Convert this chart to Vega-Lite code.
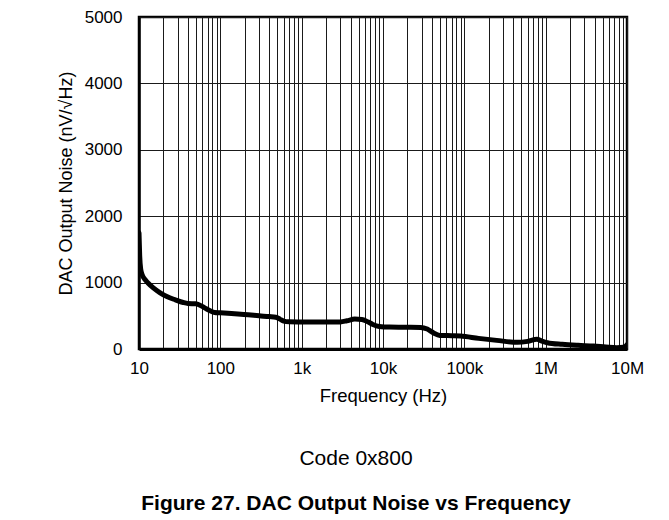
{
  "$schema": "https://vega.github.io/schema/vega-lite/v6.json",
  "width": 488,
  "height": 332,
  "autosize": {"type": "none"},
  "padding": {"left": 139, "top": 17, "right": 42, "bottom": 171},
  "background": "white",
  "config": {
    "font": "Liberation Sans",
    "view": {"stroke": "black", "strokeWidth": 2.5},
    "axis": {
      "labelFont": "Liberation Sans",
      "titleFont": "Liberation Sans",
      "labelColor": "black",
      "titleColor": "black",
      "titleFontWeight": "normal",
      "gridColor": "#1a1a1a",
      "gridOpacity": 1,
      "gridWidth": 1,
      "ticks": false,
      "domainColor": "black"
    }
  },
  "title": {
    "text": "Code 0x800",
    "subtitle": "Figure 27. DAC Output Noise vs Frequency",
    "orient": "bottom",
    "anchor": "middle",
    "dx": -27,
    "offset": 43,
    "font": "Liberation Sans",
    "fontSize": 21,
    "fontWeight": "normal",
    "color": "black",
    "subtitleFont": "Liberation Sans",
    "subtitleFontSize": 21,
    "subtitleFontWeight": "bold",
    "subtitleColor": "black",
    "subtitlePadding": 24
  },
  "data": {
    "values": [
      {"freq": 10, "noise": 1750},
      {"freq": 10.2, "noise": 1400},
      {"freq": 10.5, "noise": 1200},
      {"freq": 11, "noise": 1110},
      {"freq": 12, "noise": 1040},
      {"freq": 13, "noise": 990},
      {"freq": 15, "noise": 920},
      {"freq": 18, "noise": 850},
      {"freq": 22, "noise": 790},
      {"freq": 28, "noise": 740},
      {"freq": 35, "noise": 700},
      {"freq": 40, "noise": 685},
      {"freq": 50, "noise": 680},
      {"freq": 56, "noise": 660},
      {"freq": 65, "noise": 615},
      {"freq": 75, "noise": 575},
      {"freq": 85, "noise": 550},
      {"freq": 100, "noise": 545},
      {"freq": 150, "noise": 530},
      {"freq": 220, "noise": 515},
      {"freq": 300, "noise": 500},
      {"freq": 400, "noise": 488},
      {"freq": 480, "noise": 478},
      {"freq": 540, "noise": 450},
      {"freq": 600, "noise": 420},
      {"freq": 700, "noise": 410},
      {"freq": 1000, "noise": 408},
      {"freq": 2000, "noise": 405},
      {"freq": 3000, "noise": 408},
      {"freq": 3600, "noise": 425},
      {"freq": 4500, "noise": 450},
      {"freq": 5500, "noise": 445},
      {"freq": 6500, "noise": 410},
      {"freq": 7500, "noise": 370},
      {"freq": 9000, "noise": 340},
      {"freq": 12000, "noise": 330},
      {"freq": 20000, "noise": 328},
      {"freq": 29000, "noise": 325},
      {"freq": 35000, "noise": 300},
      {"freq": 42000, "noise": 240},
      {"freq": 50000, "noise": 205},
      {"freq": 70000, "noise": 200},
      {"freq": 90000, "noise": 195},
      {"freq": 150000, "noise": 160},
      {"freq": 250000, "noise": 130},
      {"freq": 450000, "noise": 100},
      {"freq": 600000, "noise": 115},
      {"freq": 780000, "noise": 145},
      {"freq": 900000, "noise": 120},
      {"freq": 1050000, "noise": 95},
      {"freq": 1600000, "noise": 70},
      {"freq": 2500000, "noise": 55},
      {"freq": 3900000, "noise": 45},
      {"freq": 5500000, "noise": 30},
      {"freq": 7500000, "noise": 20},
      {"freq": 9000000, "noise": 25},
      {"freq": 9600000, "noise": 40},
      {"freq": 10000000, "noise": 65}
    ]
  },
  "mark": {"type": "line", "color": "black", "strokeWidth": 5, "strokeJoin": "round", "strokeCap": "round", "interpolate": "monotone", "clip": true},
  "encoding": {
    "x": {
      "field": "freq",
      "type": "quantitative",
      "scale": {"type": "log", "domain": [10, 10000000], "nice": false},
      "axis": {
        "title": "Frequency (Hz)",
        "titleFontSize": 18.5,
        "titlePadding": 10,
        "labelFontSize": 17,
        "labelPadding": 11,
        "labelOverlap": false,
        "labelFlush": false,
        "labelBound": false,
        "domainWidth": 3,
        "grid": true,
        "values": [10,20,30,40,50,60,70,80,90,100,200,300,400,500,600,700,800,900,1000,2000,3000,4000,5000,6000,7000,8000,9000,10000,20000,30000,40000,50000,60000,70000,80000,90000,100000,200000,300000,400000,500000,600000,700000,800000,900000,1000000,2000000,3000000,4000000,5000000,6000000,7000000,8000000,9000000,10000000],
        "labelExpr": "datum.value==10?'10':datum.value==100?'100':datum.value==1000?'1k':datum.value==10000?'10k':datum.value==100000?'100k':datum.value==1000000?'1M':datum.value==10000000?'10M':''"
      }
    },
    "y": {
      "field": "noise",
      "type": "quantitative",
      "scale": {"domain": [0, 5000], "nice": false},
      "axis": {
        "title": "DAC Output Noise (nV/√Hz)",
        "titleFontSize": 18,
        "titlePadding": 9,
        "labelFontSize": 17,
        "labelPadding": 17,
        "format": "d",
        "domainWidth": 2.5,
        "grid": true,
        "values": [0, 1000, 2000, 3000, 4000, 5000]
      }
    }
  }
}
